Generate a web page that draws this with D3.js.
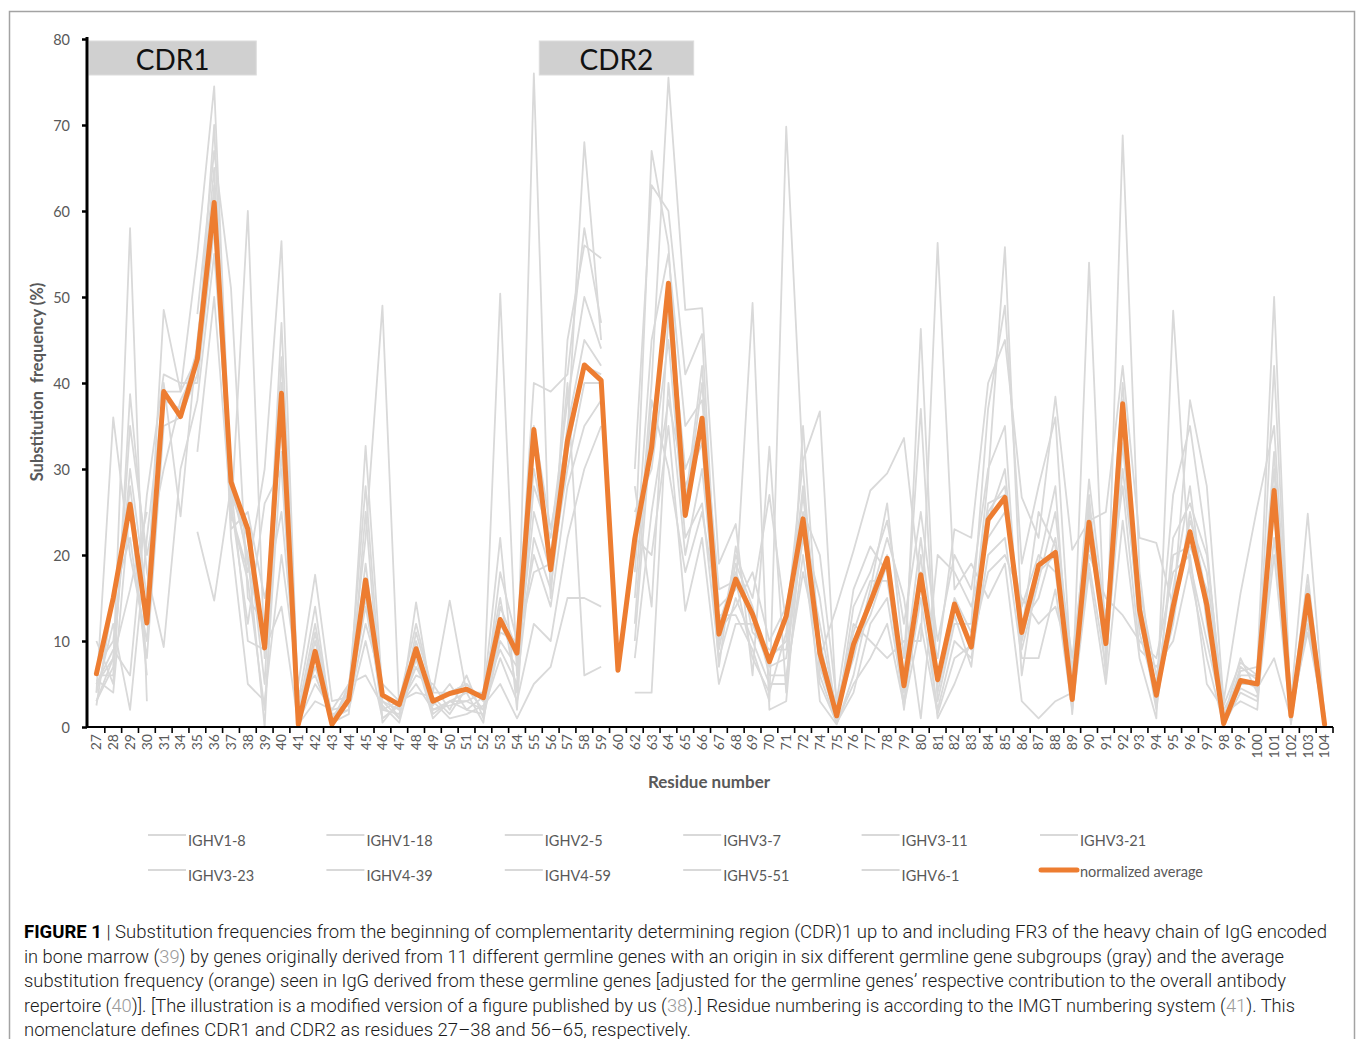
<!DOCTYPE html>
<html>
<head>
<meta charset="utf-8">
<script src="https://cdn.jsdelivr.net/npm/d3@7"></script>
<style>
  html, body { margin: 0; padding: 0; background: #fff; }
  svg { display: block; }
</style>
</head>
<body>
<svg id="chart" width="1358" height="1039"></svg>
<script>
// ---------------- DATA ----------------
const residues = [27,28,29,30,31,34,35,36,37,38,39,40,41,42,43,44,45,46,47,48,49,50,51,52,53,54,55,56,57,58,59,60,62,63,64,65,66,67,68,69,70,71,72,74,75,76,77,78,79,80,81,82,83,84,85,86,87,88,89,90,91,92,93,94,95,96,97,98,99,100,101,102,103,104];

const yTicks = [0,10,20,30,40,50,60,70,80];

const normalizedAverage = [6.2,15,25.9,12.1,39,36.1,42.8,61,28.5,23,9.2,38.8,0.3,8.8,0.3,3.2,17.1,3.7,2.6,9.1,3,3.9,4.4,3.4,12.5,8.6,34.6,18.3,33.3,42.1,40.3,6.6,21.9,32.5,51.6,24.6,35.9,10.8,17.2,13.1,7.6,12.9,24.2,8.6,1.3,9.6,14.5,19.6,4.8,17.7,5.5,14.3,9.3,24.1,26.7,11,18.8,20.3,3.2,23.8,9.7,37.6,13.6,3.7,14,22.7,14.2,0.4,5.4,5,27.5,1.3,15.3,0.3];

const IGHV1_8  = [5,8,30,15,48.5,39,55,74.5,28,20,0,40,1,8,0.5,3,19,3,2,10,3,4,5,3,12,8,30,20,35,45,42,null,20,67,56,25,40,12,18,13,8,10,27,10,1,10,14,20,5,18,5,14,9,25,28,10,18,20,3,22,10,35,14,3,15,22,14,0.5,5,5,27,1,15,0.3];
const IGHV1_18 = [4,36,20,10,40,24.5,45,62,25,18,30,56.5,2,12,1,4,28,2,1.5,8,2,3,3,2,18,10,40,39,41,58,47,null,30,63,60,41,45.7,10,20,15,27,12,31,36.7,2,8,16,26,8,37,3,12,12,37,49,19,28,36,5,28.8,12,40,12,5,27,35,21,1,8,4,42,2,17.7,0.5];
const IGHV2_5  = [3,7,58,3,null,null,48,67,51,15,12,35,0.5,5,2,2.5,12,5,3,12,4,14.7,4,4,15,4,76,15,45,56,54.5,null,15,40,75.5,48.5,48.7,19,23.6,6,32.6,4,35,8,14,20.5,27.5,29.5,33.6,16,8,23,22,40,45,26.7,22,38.4,20.6,24,25,42,22,21.4,14,38,28,3,15.5,25.6,35,3,24.8,1];
const IGHV3_7  = [6,6,35,20,30,38,42,60,24,60,8,47,3,14,0.3,5,17,1,2.5,6,5,2,6,1,10,7,25,18,30,40,40,null,25,30,45,22,26,8,15,10,5,5,20,5,0.5,4,12,15,3,15,2,10,8,20,22,8,8,16,2,18,5,24,8,1,48.4,18,8,0.2,4,3,20,0.5,14,0.2];
const IGHV3_11 = [5,9,6,27,41,40,40,58,26,12,26,30,1.5,10,1.5,2,32.7,4,1,14.5,2.5,5,2,3.5,22,2,35,23,34,68,45,null,10,35,50,30,35,14,16,49.3,2,3,25,20,3,16,21,18,2,20,1,5,10,29,55.8,12,15,22,8,25,9,38,15,4,12,25,15,0.8,6,6,30,1.5,16,0.8];
const IGHV3_21 = [7,10,28,12,38,37,44,65,22,5,3,20,5,17.7,3,3.5,15,2,3,9,1.5,3,4,0.5,14,9,20,14,28,35,38,null,22,20,35,13.5,22,5,12,12,7,8,22,12,1.5,12,10,8,10,10,56.3,16,19,15,19,3,1,3,4,20,15,13,10,8,18,20,5,2,5.5,4.5,8,1,12,0.4];
const IGHV3_23 = [2.5,15,22,8,35,36,41,63,27,22,5,43,0.8,7,0.8,4.5,22,49,2,7,3,1,1.5,2.5,5,1,5,7,15,15,14,null,4,4,40,20,30,11,14,18,10,14,24,3,0.3,6,15,22,15,1,20,18,14,22,25,14,20,18,3.5,54,8,30,13,2,16,28,12,0.5,7,5.5,25,2.5,15.5,1.5];
const IGHV4_39 = [10,5,38.7,18,9.3,30,38,55,30,19,10,38,2,9,0.2,3,14,3,1,11,4,4,5,3,50.4,6,28,22,38,50,44,null,18,45,55,35,38,16,17,8,4,11,28,7,1,9,13,19,4,46.3,4,13,7,24,30,9,17,25,6,26,11,36,16,6,13,24,18,1.5,3,2,28,0.8,13,0.6];
const IGHV4_59 = [4,12,2,22,39,39,43,70,23,25,15,25,4,6,1,2,10,1,2.5,5,2,2.5,3,4,9,5,22,16,32,42,41,null,28,14,48,26,42,9,19,14,6,6,18,9,2.5,11,17,17,6,22,6,15,11,26,27,11,25,21,2.5,19,7,33,11,3.5,20,21,16,0.3,6.5,7,50,1.2,14.5,0.3];
const IGHV5_51 = [5.5,4,26,6,null,null,22.7,14.7,28,10,9,14,0.3,3,2,5,6,2.5,0.5,8,1,3,2,1.5,11,10,18,19,40,6,7,null,12,38,30,18,25,13,13,9,3,69.8,30,6,0.5,5,8,12,2.5,12,1.5,8,9.5,18,20,15,12,14,7,21,13,28,9,7,10,19,10,1,4.5,3.5,22,2,11,1];
const IGHV6_1  = [3,8,16,25,null,null,32,50,25,17,2,32,1,11,0.5,1.5,25,0.5,3,4,3.5,1.5,4.5,2,8,3,12,10,22,30,35,null,8,25,38,28,33,7,21,11,9,9,23,15,1,14,18,24,12,25,10,20,16,30,35,6,19,28,1.5,27,6,68.8,18,2.5,22,26,20,2.5,7.5,6,32,0.3,16.5,0.5];

const graySeries = [
  {name: "IGHV1-8",  values: IGHV1_8},
  {name: "IGHV1-18", values: IGHV1_18},
  {name: "IGHV2-5",  values: IGHV2_5},
  {name: "IGHV3-7",  values: IGHV3_7},
  {name: "IGHV3-11", values: IGHV3_11},
  {name: "IGHV3-21", values: IGHV3_21},
  {name: "IGHV3-23", values: IGHV3_23},
  {name: "IGHV4-39", values: IGHV4_39},
  {name: "IGHV4-59", values: IGHV4_59},
  {name: "IGHV5-51", values: IGHV5_51},
  {name: "IGHV6-1",  values: IGHV6_1}
];

const regions = [
  {label: "CDR1", from: 27, to: 38},
  {label: "CDR2", from: 56, to: 65}
];

const captionLines = [
  [["FIGURE 1", "b"], [" | Substitution frequencies from the beginning of complementarity determining region (CDR)1 up to and including FR3 of the heavy chain of IgG encoded", "n"]],
  [["in bone marrow (", "n"], ["39", "c"], [") by genes originally derived from 11 different germline genes with an origin in six different germline gene subgroups (gray) and the average", "n"]],
  [["substitution frequency (orange) seen in IgG derived from these germline genes [adjusted for the germline genes\u2019 respective contribution to the overall antibody", "n"]],
  [["repertoire (", "n"], ["40", "c"], [")]. [The illustration is a modified version of a figure published by us (", "n"], ["38", "c"], [").] Residue numbering is according to the IMGT numbering system (", "n"], ["41", "c"], ["). This", "n"]],
  [["nomenclature defines CDR1 and CDR2 as residues 27\u201338 and 56\u201365, respectively.", "n"]]
];
const captionWidths = [1303, 1260, 1262, 1271, null];

// ---------------- DRAW ----------------
const svg = d3.select("#chart");
const FONT = "Lato, 'Open Sans', sans-serif";
const TXT = "#595959";
const CAPFONT = "Roboto, 'Liberation Sans', sans-serif";

// frame
svg.append("rect").attr("x", 9.5).attr("y", 11.5).attr("width", 1345).attr("height", 1100)
  .attr("fill", "none").attr("stroke", "#a3a3a3").attr("stroke-width", 1.5);

const x = d3.scaleBand().domain(residues).range([88, 1333]);
const y = d3.scaleLinear().domain([0, 80]).range([727, 39]);
const cx = d => x(d) + x.bandwidth() / 2;

// gray lines
const line = d3.line()
  .defined(d => d.v !== null)
  .x(d => cx(d.r))
  .y(d => y(d.v));

svg.append("g").selectAll("path").data(graySeries).join("path")
  .attr("d", s => line(residues.map((r, i) => ({r, v: s.values[i]}))))
  .attr("fill", "none").attr("stroke", "#d9d9d9").attr("stroke-width", 1.8)
  .attr("stroke-linejoin", "round");

// orange line
svg.append("path")
  .attr("d", line(residues.map((r, i) => ({r, v: normalizedAverage[i]}))))
  .attr("fill", "none").attr("stroke", "#ed7d31").attr("stroke-width", 5)
  .attr("stroke-linejoin", "round").attr("stroke-linecap", "round");

// CDR boxes
const rg = svg.append("g");
regions.forEach(rgn => {
  const x0 = Math.max(89, x(rgn.from) - 3);
  const x1 = x(rgn.to) + x.bandwidth();
  rg.append("rect").attr("x", x0).attr("y", 41).attr("width", x1 - x0).attr("height", 34)
    .attr("fill", "#d0d0d0").attr("stroke", "#dcdcdc").attr("stroke-width", 1);
  rg.append("text").attr("x", (x0 + x1) / 2).attr("y", 69.5)
    .attr("text-anchor", "middle").attr("font-family", FONT).attr("font-size", 28)
    .attr("fill", "#111").text(rgn.label);
});

// Y axis
const yAxis = svg.append("g").attr("transform", "translate(87,0)")
  .call(d3.axisLeft(y).tickValues(yTicks).tickSize(5).tickPadding(12));
yAxis.select(".domain").attr("stroke", "#000").attr("stroke-width", 3)
  .attr("d", `M0,${y(80) - 2}V${y(0)}`);
yAxis.selectAll(".tick line").attr("stroke", "#000").attr("stroke-width", 2.5);
yAxis.selectAll(".tick text").attr("font-family", FONT).attr("font-size", 14.5)
  .attr("fill", TXT).attr("dy", "0.35em");

// X axis (labels at category centres, ticks at category boundaries)
const xAxis = svg.append("g").attr("transform", `translate(0,${y(0)})`)
  .call(d3.axisBottom(x).tickSize(0).tickPadding(0));
xAxis.select(".domain").attr("stroke", "#000").attr("stroke-width", 2)
  .attr("d", `M86,0H${x.range()[1]}`);
xAxis.selectAll(".tick text")
  .attr("font-family", FONT).attr("font-size", 14).attr("fill", TXT)
  .attr("transform", "rotate(-90)").attr("text-anchor", "end")
  .attr("x", -7).attr("y", 0).attr("dy", "0.35em");
const bounds = residues.map(r => x(r)).concat([x.range()[1]]);
xAxis.append("g").selectAll("line").data(bounds.slice(1)).join("line")
  .attr("x1", d => d).attr("x2", d => d).attr("y1", 0).attr("y2", 6)
  .attr("stroke", "#000").attr("stroke-width", 1.6);

// axis titles
svg.append("text").attr("transform", "translate(43,382) rotate(-90)")
  .attr("text-anchor", "middle").attr("font-family", FONT).attr("font-weight", 700)
  .attr("font-size", 16.5).attr("fill", TXT).attr("xml:space", "preserve")
  .text("Substitution  frequency (%)");
svg.append("text").attr("x", 709).attr("y", 788)
  .attr("text-anchor", "middle").attr("font-family", FONT).attr("font-weight", 700)
  .attr("font-size", 17).attr("fill", TXT).text("Residue number");

// legend
const legendItems = graySeries.map(s => ({name: s.name, gray: true}))
  .concat([{name: "normalized average", gray: false}]);
const lg = svg.append("g");
legendItems.forEach((it, i) => {
  const col = i % 6, row = Math.floor(i / 6);
  const lx = 148 + col * 178.4, ly = 841 + row * 35;
  if (it.gray) {
    lg.append("line").attr("x1", lx).attr("x2", lx + 38).attr("y1", ly - 6).attr("y2", ly - 6)
      .attr("stroke", "#d9d9d9").attr("stroke-width", 1.8);
    lg.append("text").attr("x", lx + 40).attr("y", ly).attr("dy", "0.35em")
      .attr("font-family", FONT).attr("font-size", 14.5).attr("fill", TXT).text(it.name);
  } else {
    lg.append("line").attr("x1", lx + 1).attr("x2", lx + 37).attr("y1", ly - 6).attr("y2", ly - 6)
      .attr("stroke", "#ed7d31").attr("stroke-width", 5).attr("stroke-linecap", "round");
    lg.append("text").attr("x", lx + 40).attr("y", ly - 4).attr("dy", "0.35em")
      .attr("font-family", FONT).attr("font-size", 14.5).attr("fill", TXT).text(it.name);
  }
});

// caption
function naturalWidth(parts) {
  const tmp = svg.append("text").attr("font-family", CAPFONT)
    .attr("font-size", 18).attr("font-weight", 300).attr("xml:space", "preserve");
  parts.forEach(([s, k]) => { const ts = tmp.append("tspan").text(s); if (k === "b") ts.attr("font-weight", 700); });
  const n = tmp.node().getComputedTextLength();
  tmp.remove();
  return n;
}
const condense = captionWidths[0] / naturalWidth(captionLines[0]);
const cap = svg.append("g");
captionLines.forEach((parts, i) => {
  const t = cap.append("text").attr("x", 24).attr("y", 938 + i * 24.6)
    .attr("font-family", CAPFONT).attr("font-size", 18)
    .attr("font-weight", 300).attr("fill", "#1a1a1a").attr("xml:space", "preserve");
  parts.forEach(([s, k]) => {
    const ts = t.append("tspan").text(s);
    if (k === "b") ts.attr("font-weight", 700).attr("fill", "#000");
    if (k === "c") ts.attr("fill", "#9a9a9a");
  });
  const w = captionWidths[i] || t.node().getComputedTextLength() * condense;
  t.attr("textLength", w).attr("lengthAdjust", "spacingAndGlyphs");
});
</script>
</body>
</html>
